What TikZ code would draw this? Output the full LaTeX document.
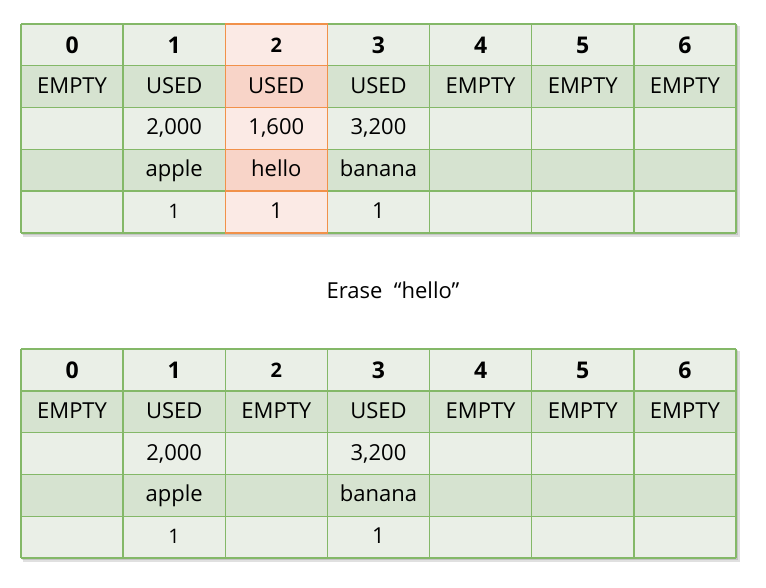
\documentclass[tikz,border=0pt]{standalone}
\usepackage{fontspec}
\setmainfont{Open Sans}
\definecolor{cellLight}{HTML}{EAEFE7}
\definecolor{cellDark}{HTML}{D6E3D0}
\definecolor{gridGreen}{HTML}{84B868}
\definecolor{hlLight}{HTML}{FBEAE5}
\definecolor{hlDark}{HTML}{F8D4C8}
\definecolor{hlLine}{HTML}{F1914A}
\tikzset{
  txt/.style={inner sep=0pt, text height=17pt, text depth=4pt, font=\fontsize{22}{22}\selectfont},
  smalltxt/.style={txt, font=\fontsize{20}{20}\selectfont},
  head/.style={inner sep=0pt, text height=16.4pt, text depth=0pt, font=\fontsize{23}{23}\selectfont\bfseries},
  smallhead/.style={head, text height=14.3pt, font=\fontsize{20}{20}\selectfont\bfseries},
  gridline/.style={draw=gridGreen, line width=1.4pt},
  hlline/.style={draw=hlLine, line width=1.4pt},
}

\begin{document}
\begin{tikzpicture}[x=1pt, y=-1pt]
	%%%%% START %%%%%
	\useasboundingbox (0,0) rectangle (766,588);
	
	% shadows
	\fill[black, opacity=0.12] (23,26) rectangle (740,237);
	\fill[black, opacity=0.12] (22,25) rectangle (738,235);
	\fill[black, opacity=0.12] (23,351) rectangle (740,562);
	\fill[black, opacity=0.12] (22,350) rectangle (738,560);
	
	% cell fills
	\foreach \top in {24,349}{
		\foreach \r in {0,...,4}{
			\ifodd\r \def\rowfill{cellDark}\else\def\rowfill{cellLight}\fi
			\foreach \c in {0,...,6}
				\fill[\rowfill] ({21+\c*102.14},{\top+\r*41.8}) rectangle ++(102.14,41.8);
		}
	}
	\foreach \r in {0,...,4}{
		\ifodd\r \def\rowfill{hlDark}\else\def\rowfill{hlLight}\fi
		\fill[\rowfill] (225.28,{24+\r*41.8}) rectangle ++(102.14,41.8);
	}
	
	% grid lines
	\foreach \top in {24,349}{
		\foreach \c in {0,...,7}
			\draw[gridline] ({21+\c*102.14},\top) -- ++(0,209);
		\foreach \r in {0,...,5}
			\draw[gridline] (21,{\top+\r*41.8}) -- ++(715,0);
	}
	\draw[hlline] (225.28,24) rectangle (327.42,233);
	\foreach \r in {1,...,4}
		\draw[hlline] (225.28,{24+\r*41.8}) -- ++(102.14,0);
	
	% upper table
	\foreach \c in {0,1,3,4,5,6}
		\node[head] (top-0-\c) at ({72.07+\c*102.14},44.9) {\c};
	\node[smallhead] (top-0-2) at (276.35,44.9) {2};
	\foreach \c/\t in {0/EMPTY,1/USED,2/USED,3/USED,4/EMPTY,5/EMPTY,6/EMPTY}
		\node[txt] (top-1-\c) at ({72.07+\c*102.14},86.7) {\t};
	\foreach \c/\t in {1/{2,000},2/{1,600},3/{3,200}}
		\node[txt] (top-2-\c) at ({72.07+\c*102.14},128.5) {\t};
	\foreach \c/\t in {1/apple,2/hello,3/banana}
		\node[txt] (top-3-\c) at ({72.07+\c*102.14},170.3) {\t};
	\node[smalltxt] (top-4-1) at (174.21,212.1) {1};
	\foreach \c in {2,3}
		\node[txt] (top-4-\c) at ({72.07+\c*102.14},212.1) {1};
	
	\node[txt] (erase) at (393,292) {Erase~~“hello”};
	
	% lower table
	\foreach \c in {0,1,3,4,5,6}
		\node[head] (bot-0-\c) at ({72.07+\c*102.14},369.9) {\c};
	\node[smallhead] (bot-0-2) at (276.35,369.9) {2};
	\foreach \c/\t in {0/EMPTY,1/USED,2/EMPTY,3/USED,4/EMPTY,5/EMPTY,6/EMPTY}
		\node[txt] (bot-1-\c) at ({72.07+\c*102.14},411.7) {\t};
	\foreach \c/\t in {1/{2,000},3/{3,200}}
		\node[txt] (bot-2-\c) at ({72.07+\c*102.14},453.5) {\t};
	\foreach \c/\t in {1/apple,3/banana}
		\node[txt] (bot-3-\c) at ({72.07+\c*102.14},495.3) {\t};
	\node[smalltxt] (bot-4-1) at (174.21,537.1) {1};
	\node[txt] (bot-4-3) at (378.49,537.1) {1};
	
	%%%%% END %%%%%
\end{tikzpicture}
\end{document}
